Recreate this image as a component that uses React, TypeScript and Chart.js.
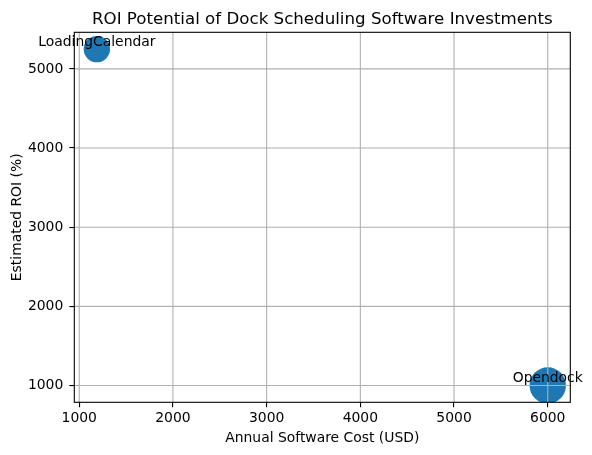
import { useEffect, useRef } from 'react';
import { Chart, registerables, ChartConfiguration, Plugin } from 'chart.js';

Chart.register(...registerables);

const tools = ['LoadingCalendar', 'Opendock'];
const annualCost = [1188, 6000];
const estimatedRoi = [5250, 1000];
const bubbleRadius = [13.2, 18.2];
const xTicks = [1000, 2000, 3000, 4000, 5000, 6000];
const yTicks = [1000, 2000, 3000, 4000, 5000];

const FONT = "'DejaVu Sans', sans-serif";
const GRID = '#b0b0b0';

// matplotlib-like 5% margins
const pad = (vals: number[]) => {
  const lo = Math.min(...vals);
  const hi = Math.max(...vals);
  const m = (hi - lo) * 0.05;
  return [lo - m, hi + m];
};
const [xMin, xMax] = pad(annualCost);
const [yMin, yMax] = pad(estimatedRoi);

// grid over the markers, frame, point labels and title
const overlay: Plugin = {
  id: 'overlay',
  afterDatasetsDraw(chart) {
    const { ctx, chartArea: a, scales } = chart;
    ctx.save();
    ctx.lineWidth = 1.1;
    ctx.strokeStyle = GRID;
    ctx.beginPath();
    xTicks.forEach((v) => {
      const x = scales.x.getPixelForValue(v);
      ctx.moveTo(x, a.top);
      ctx.lineTo(x, a.bottom);
    });
    yTicks.forEach((v) => {
      const y = scales.y.getPixelForValue(v);
      ctx.moveTo(a.left, y);
      ctx.lineTo(a.right, y);
    });
    ctx.stroke();

    ctx.strokeStyle = '#000';
    ctx.strokeRect(a.left, a.top, a.right - a.left, a.bottom - a.top);

    ctx.fillStyle = '#000';
    ctx.font = `13.9px ${FONT}`;
    ctx.textAlign = 'center';
    ctx.textBaseline = 'alphabetic';
    const meta = chart.getDatasetMeta(0);
    meta.data.forEach((el, i) => {
      ctx.fillText(tools[i], el.x, el.y - 3);
    });

    ctx.font = `16.67px ${FONT}`;
    ctx.fillText(
      'ROI Potential of Dock Scheduling Software Investments',
      (a.left + a.right) / 2,
      23.5
    );
    ctx.restore();
  },
};

export default function App() {
  const chartRef = useRef<HTMLCanvasElement>(null);

  useEffect(() => {
    document.body.style.margin = '0';
    if (!chartRef.current) return;
    const ctx = chartRef.current.getContext('2d');
    if (!ctx) return;

    const tickFont = { family: FONT, size: 13.9 };

    const chart = new Chart(ctx, {
      type: 'bubble',
      data: {
        datasets: [
          {
            label: 'Tools',
            data: annualCost.map((c, i) => ({ x: c, y: estimatedRoi[i], r: bubbleRadius[i] })),
            backgroundColor: '#1f77b4',
            borderWidth: 0,
          },
        ],
      },
      options: {
        animation: false,
        responsive: true,
        maintainAspectRatio: false,
        layout: { padding: { left: 0, top: 32.3, right: 21.7, bottom: 0 } },
        plugins: {
          legend: { display: false },
          tooltip: { enabled: false },
          title: { display: false },
        },
        scales: {
          x: {
            type: 'linear',
            min: xMin,
            max: xMax,
            afterBuildTicks: (s: any) => {
              s.ticks = xTicks.map((v) => ({ value: v }));
            },
            afterFit: (s: any) => {
              s.height = 52.7;
            },
            grid: {
              drawOnChartArea: false,
              drawTicks: true,
              tickLength: 5,
              tickColor: '#000',
              lineWidth: 1.1,
            },
            border: { display: false },
            ticks: {
              color: '#000',
              font: tickFont,
              padding: 3,
              maxRotation: 0,
              autoSkip: false,
              callback: (v: any) => String(v),
            },
            title: {
              display: true,
              text: 'Annual Software Cost (USD)',
              color: '#000',
              font: tickFont,
              padding: { top: 0, bottom: 8 },
            },
          },
          y: {
            type: 'linear',
            min: yMin,
            max: yMax,
            afterBuildTicks: (s: any) => {
              s.ticks = yTicks.map((v) => ({ value: v }));
            },
            afterFit: (s: any) => {
              s.width = 74.3;
            },
            grid: {
              drawOnChartArea: false,
              drawTicks: true,
              tickLength: 5,
              tickColor: '#000',
              lineWidth: 1.1,
            },
            border: { display: false },
            ticks: {
              color: '#000',
              font: tickFont,
              padding: 6,
              autoSkip: false,
              callback: (v: any) => String(v),
            },
            title: {
              display: true,
              text: 'Estimated ROI (%)',
              color: '#000',
              font: tickFont,
              padding: { top: 9, bottom: 0 },
            },
          },
        },
      },
      plugins: [overlay],
    } as ChartConfiguration);

    return () => {
      chart.destroy();
    };
  }, []);

  return (
    <div style={{ width: 592, height: 455, position: 'relative' }}>
      <canvas ref={chartRef} />
    </div>
  );
}
